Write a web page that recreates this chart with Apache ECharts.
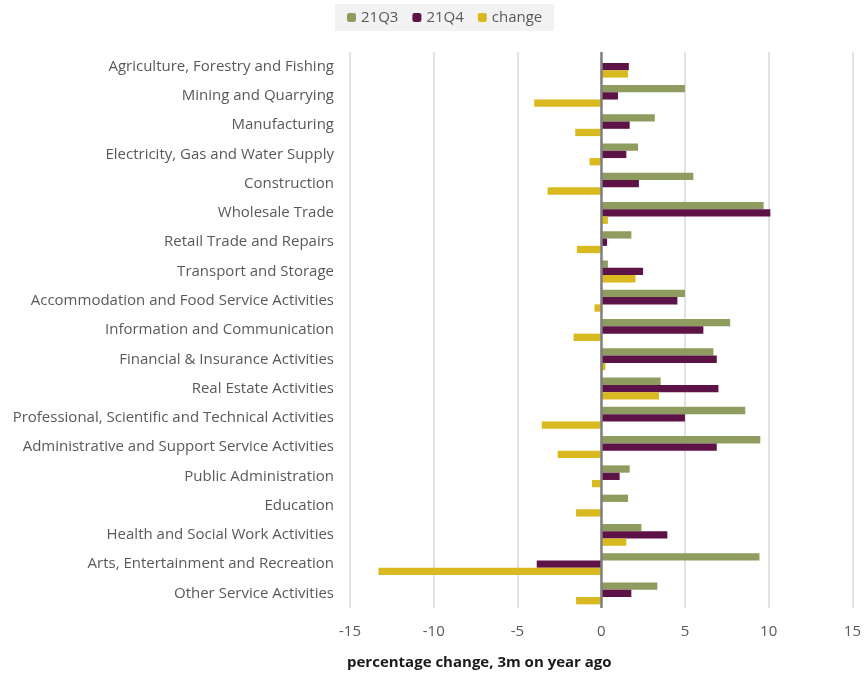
<!DOCTYPE html>
<html>
<head>
<meta charset="utf-8">
<script src="https://cdn.jsdelivr.net/npm/echarts@6/dist/echarts.min.js"></script>
<style>html,body{margin:0;padding:0;background:#fff}#c{width:864px;height:673px}</style>
</head>
<body>
<div id="c"></div>
<script>
var categories = [
  "Agriculture, Forestry and Fishing",
  "Mining and Quarrying",
  "Manufacturing",
  "Electricity, Gas and Water Supply",
  "Construction",
  "Wholesale Trade",
  "Retail Trade and Repairs",
  "Transport and Storage",
  "Accommodation and Food Service Activities",
  "Information and Communication",
  "Financial & Insurance Activities",
  "Real Estate Activities",
  "Professional, Scientific and Technical Activities",
  "Administrative and Support Service Activities",
  "Public Administration",
  "Education",
  "Health and Social Work Activities",
  "Arts, Entertainment and Recreation",
  "Other Service Activities"
];
var q3 = [0, 5.0, 3.2, 2.2, 5.5, 9.7, 1.8, 0.4, 5.0, 7.7, 6.7, 3.55, 8.6, 9.5, 1.7, 1.6, 2.4, 9.45, 3.35];
var q4 = [1.65, 1.0, 1.7, 1.5, 2.25, 10.1, 0.35, 2.5, 4.55, 6.1, 6.9, 7.0, 5.0, 6.9, 1.1, 0, 3.95, -3.85, 1.8];
var change = [1.6, -4.0, -1.55, -0.7, -3.2, 0.4, -1.45, 2.05, -0.4, -1.65, 0.25, 3.45, -3.55, -2.6, -0.55, -1.5, 1.5, -13.3, -1.5];
var xTicks = { min: -15, max: 15, interval: 5 };

var chart = echarts.init(document.getElementById('c'));
var font = "'Open Sans', sans-serif";
chart.setOption({
  animation: false,
  textStyle: { fontFamily: font },
  legend: {
    top: 4, left: 335,
    backgroundColor: '#f2f2f2',
    padding: [6, 12, 6, 12],
    itemWidth: 9, itemHeight: 9, itemGap: 14,
    textStyle: { fontSize: 15, color: '#595959', fontFamily: font },
    data: ['21Q3', '21Q4', 'change']
  },
  grid: { left: 350, right: 11, top: 52, bottom: 65, containLabel: false },
  xAxis: {
    type: 'value', min: xTicks.min, max: xTicks.max, interval: xTicks.interval,
    axisLine: { show: false }, axisTick: { show: false },
    splitLine: { show: true, lineStyle: { color: '#d9d9d9', width: 1.5 } },
    axisLabel: { fontSize: 15, color: '#595959', margin: 16, fontFamily: font }
  },
  yAxis: {
    type: 'category', data: categories, inverse: true,
    axisLine: { show: false }, axisTick: { show: false },
    axisLabel: { fontSize: 15, color: '#595959', margin: 16, fontFamily: font }
  },
  title: {
    text: 'percentage change, 3m on year ago', left: 342, top: 650,
    textStyle: { fontSize: 15, fontWeight: 'bold', color: '#1a1a1a', fontFamily: font }
  },
  series: [
    { name: '21Q3', type: 'bar', data: q3, barWidth: 7.3, barGap: '0%', itemStyle: { color: '#8e9d5f' } },
    { name: '21Q4', type: 'bar', data: q4, barWidth: 7.3, barGap: '0%', itemStyle: { color: '#5e1347' } },
    { name: 'change', type: 'bar', data: change, barWidth: 7.3, barGap: '0%', itemStyle: { color: '#d8b920' },
      markLine: { silent: true, symbol: 'none', label: { show: false },
        lineStyle: { color: '#808080', width: 2.5, type: 'solid' }, data: [{ xAxis: 0 }] } }
  ]
});
</script>
</body>
</html>
